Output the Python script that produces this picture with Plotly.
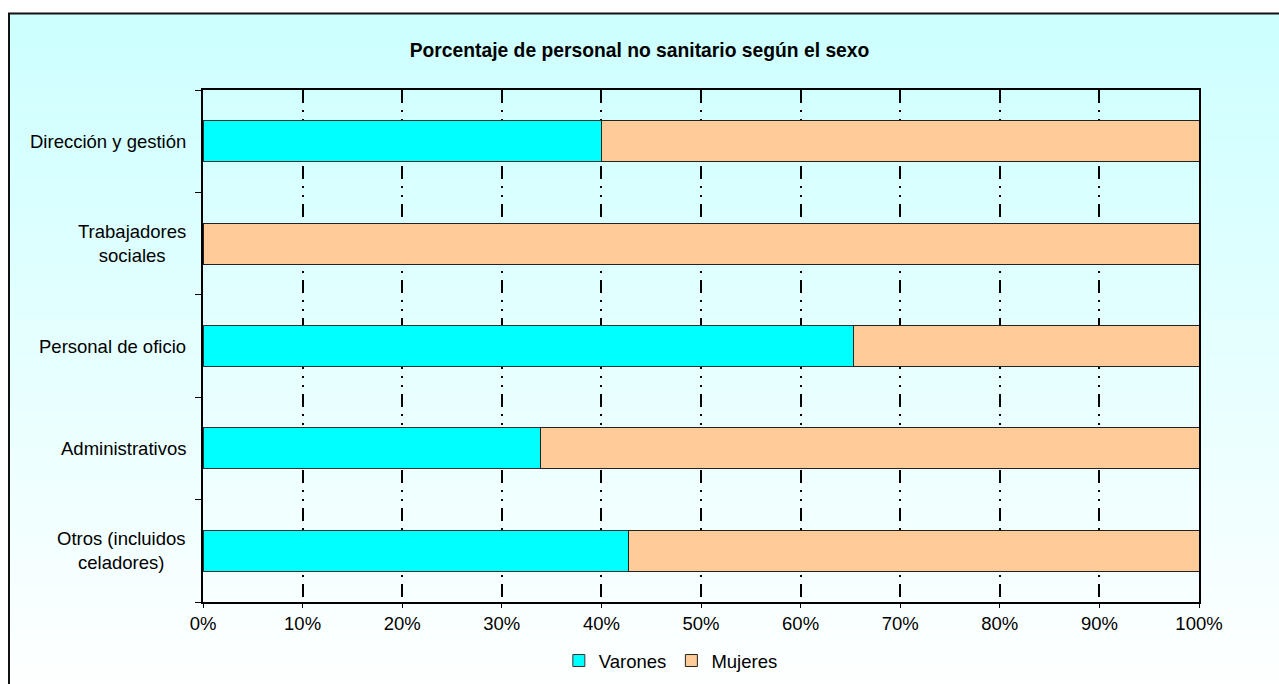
import plotly.graph_objects as go

# ---- data ----
categories = ["Dirección y gestión", "Trabajadores sociales", "Personal de oficio",
              "Administrativos", "Otros (incluidos celadores)"]
category_labels = ["Dirección y gestión", "Trabajadores<br>sociales", "Personal de oficio",
                   "Administrativos", "Otros (incluidos<br>celadores)"]
varones = [40.0, 0.0, 65.3, 33.9, 42.7]
mujeres = [60.0, 100.0, 34.7, 66.1, 57.3]
x_ticks = [0, 10, 20, 30, 40, 50, 60, 70, 80, 90, 100]
x_tick_labels = ["0%", "10%", "20%", "30%", "40%", "50%", "60%", "70%", "80%", "90%", "100%"]
title_text = "Porcentaje de personal no sanitario según el sexo"

# ---- geometry (pixels) ----
W, H = 1279, 684
ML, MR, MT, MB = 203, 80, 90, 82
PW, PH = W - ML - MR, H - MT - MB

def px_x(p):
    return (p - ML) / PW

def px_y(p):
    return 1 - (p - MT) / PH

FONT = "Liberation Sans, Arial, sans-serif"
FS = 18.5
FS_TITLE = 19.3

fig = go.Figure()
fig.add_trace(go.Bar(y=categories, x=varones, name="Varones", orientation="h",
                     marker=dict(color="#00FFFF", line=dict(color="#333333", width=1))))
fig.add_trace(go.Bar(y=categories, x=mujeres, name="Mujeres", orientation="h",
                     marker=dict(color="#FFCC99", line=dict(color="#222222", width=1))))

# background gradient inside the frame (light cyan at top -> white at bottom)
shapes = []
top_px, bot_px = 13, 700
n = 140
for i in range(n):
    y0p = top_px + (bot_px - top_px) * i / n
    y1p = top_px + (bot_px - top_px) * (i + 1) / n
    t = (i + 0.5) / n
    r = int(round(204 + (255 - 204) * t))
    shapes.append(dict(type="rect", xref="paper", yref="paper", layer="below",
                       x0=px_x(9), x1=px_x(1300), y0=px_y(y0p), y1=px_y(y1p + 0.6),
                       fillcolor=f"rgb({r},255,255)", line=dict(width=0)))
# frame
shapes.append(dict(type="rect", xref="paper", yref="paper", layer="below",
                   x0=px_x(9), x1=px_x(1300), y0=px_y(13.5), y1=px_y(720),
                   fillcolor="rgba(0,0,0,0)", line=dict(color="#111111", width=2)))

annotations = []
for cat, lab in zip(categories, category_labels):
    annotations.append(dict(x=0, xref="paper", y=cat, yref="y", text=lab,
                            showarrow=False, xanchor="right", yanchor="middle",
                            align="center", xshift=-15,
                            font=dict(family=FONT, size=FS, color="#000000")))

fig.update_layout(
    width=W, height=H,
    margin=dict(l=ML, r=MR, t=MT, b=MB, pad=0, autoexpand=False),
    paper_bgcolor="#FFFFFF",
    plot_bgcolor="rgba(0,0,0,0)",
    barmode="stack",
    bargap=0.6,
    title=dict(text=f"<b>{title_text}</b>", x=0.5, xanchor="center",
               xref="container", y=1 - 50 / H, yref="container", yanchor="middle",
               font=dict(family=FONT, size=FS_TITLE, color="#000000")),
    xaxis=dict(range=[0, 100], tickmode="array", tickvals=x_ticks, ticktext=x_tick_labels,
               showgrid=True, gridcolor="#000000", gridwidth=1.5,
               griddash="13px,7px,2px,7px,2px,7px",
               showline=True, linecolor="#000000", linewidth=2, mirror=True,
               ticks="outside", ticklen=4, tickcolor="#000000", tickwidth=1,
               zeroline=False, tickfont=dict(family=FONT, size=FS, color="#000000"),
               fixedrange=True),
    yaxis=dict(categoryorder="array", categoryarray=categories[::-1],
               tickson="boundaries", ticks="outside", ticklen=6, tickcolor="#000000",
               tickwidth=1, showticklabels=False, showgrid=False,
               showline=True, linecolor="#000000", linewidth=2, mirror=True,
               zeroline=False, fixedrange=True),
    legend=dict(orientation="h", xref="container", yref="container",
                x=0.5245, xanchor="center", y=1 - 661 / H, yanchor="middle",
                font=dict(family=FONT, size=FS, color="#000000"),
                bgcolor="rgba(0,0,0,0)", itemwidth=30, traceorder="normal"),
    showlegend=True,
    shapes=shapes,
    annotations=annotations,
)

fig.write_html("out.html", config={"displayModeBar": False},
               post_script="document.body.style.margin='0';document.body.style.overflow='hidden';")
